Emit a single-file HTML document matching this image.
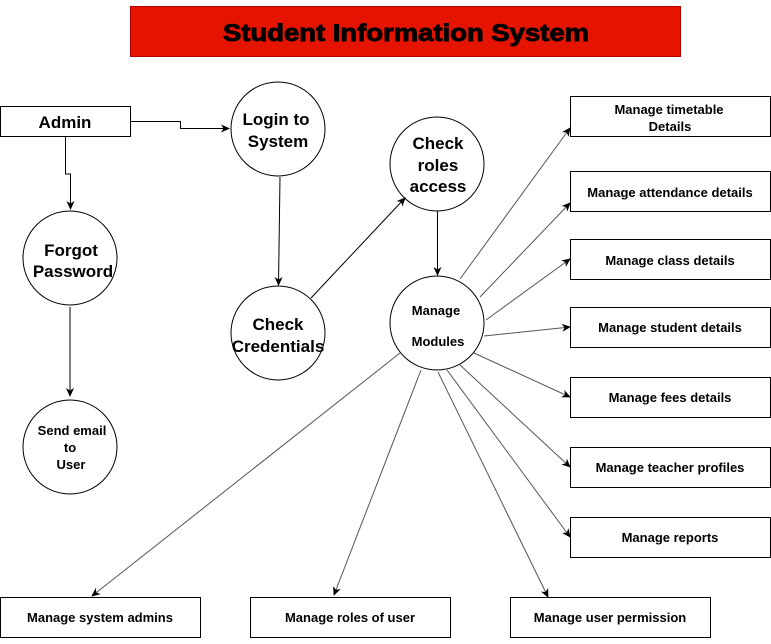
<!DOCTYPE html>
<html><head><style>
body{margin:0;background:#fff;width:771px;height:639px;overflow:hidden}
svg text{font-family:"Liberation Sans",Arial,sans-serif;font-weight:bold;fill:#000;text-anchor:middle}
</style></head><body>
<svg width="771" height="639" viewBox="0 0 771 639" xmlns="http://www.w3.org/2000/svg">
<defs><marker id="a" markerWidth="10" markerHeight="10" refX="8" refY="5" orient="auto" markerUnits="userSpaceOnUse"><path d="M0,1 L9,5 L0,9 L2.5,5 z" fill="#000"/></marker></defs>
<rect x="130.5" y="6.5" width="550" height="50" fill="#e51400" stroke="#b20000"/>
<text x="406" y="41" font-size="24" textLength="366" lengthAdjust="spacingAndGlyphs" stroke="#000" stroke-width="0.9">Student Information System</text>
<g fill="#fff" stroke="#000" stroke-width="1">
<rect x="0.5" y="106.5" width="130" height="30"/>
<circle cx="278" cy="129" r="47"/>
<circle cx="437" cy="164" r="47"/>
<circle cx="70" cy="258" r="47"/>
<circle cx="278" cy="333" r="47"/>
<circle cx="437" cy="323" r="47"/>
<circle cx="70" cy="447" r="47"/>
<rect x="570.5" y="96.5" width="200" height="40"/>
<rect x="570.5" y="171.5" width="200" height="40"/>
<rect x="570.5" y="239.5" width="200" height="40"/>
<rect x="570.5" y="307.5" width="200" height="40"/>
<rect x="570.5" y="377.5" width="200" height="40"/>
<rect x="570.5" y="447.5" width="200" height="40"/>
<rect x="570.5" y="517.5" width="200" height="40"/>
<rect x="0.5" y="597.5" width="200" height="40"/>
<rect x="250.5" y="597.5" width="200" height="40"/>
<rect x="510.5" y="597.5" width="200" height="40"/>
</g>
<g fill="none" stroke="#000" stroke-width="1" marker-end="url(#a)">
<path d="M131,121.5 H180.5 V128.5 H229"/>
<path d="M65.5,137 V174 H70.5 V209"/>
<path d="M70,307 V396"/>
<path d="M280,177 L278.5,285"/>
<path d="M311,298 L405,198"/>
<path d="M437.5,211 V275"/>
</g>
<g fill="none" stroke="#555" stroke-width="1" marker-end="url(#a)">
<path d="M460,279 L570,128"/>
<path d="M480,297 L570,203"/>
<path d="M486,320 L570,259"/>
<path d="M484,336 L570,327"/>
<path d="M474,353 L570,397"/>
<path d="M460,365 L570,467"/>
<path d="M447,370 L570,537"/>
<path d="M438,372 L548,597"/>
<path d="M421,370 L334,595"/>
<path d="M400,353 L92,596"/>
</g>
<text x="65" y="128" font-size="17">Admin</text>
<text x="276" y="125" font-size="17">Login to</text>
<text x="278" y="147" font-size="17">System</text>
<text x="438" y="149" font-size="17">Check</text>
<text x="438" y="171" font-size="17">roles</text>
<text x="438" y="192" font-size="17">access</text>
<text x="71" y="256" font-size="17">Forgot</text>
<text x="73" y="277" font-size="17">Password</text>
<text x="278" y="330" font-size="17">Check</text>
<text x="278" y="352" font-size="17">Credentials</text>
<text x="436" y="315" font-size="13">Manage</text>
<text x="438" y="346" font-size="13">Modules</text>
<text x="72" y="435" font-size="13">Send email</text>
<text x="70" y="452" font-size="13">to</text>
<text x="71" y="469" font-size="13">User</text>
<g font-size="13">
<text x="669" y="114">Manage timetable</text>
<text x="670" y="131">Details</text>
<text x="670" y="197">Manage attendance details</text>
<text x="670" y="265">Manage class details</text>
<text x="670" y="332">Manage student details</text>
<text x="670" y="402">Manage fees details</text>
<text x="670" y="472">Manage teacher profiles</text>
<text x="670" y="542">Manage reports</text>
<text x="100" y="622">Manage system admins</text>
<text x="350" y="622">Manage roles of user</text>
<text x="610" y="622">Manage user permission</text>
</g>
</svg>
</body></html>
